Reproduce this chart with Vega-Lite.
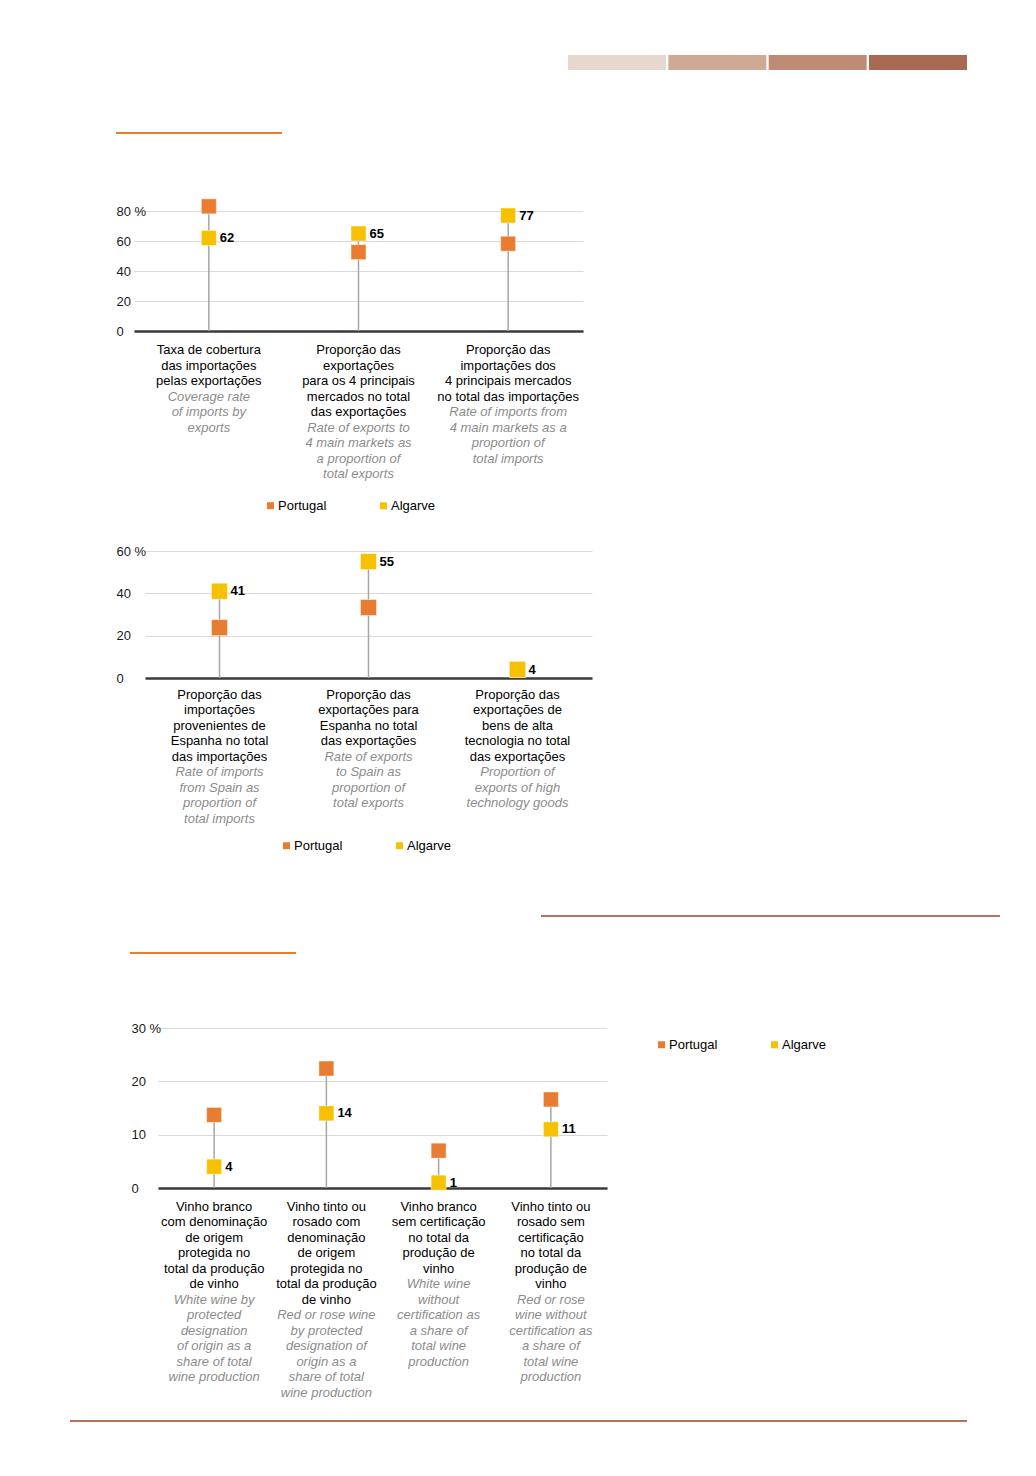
{
  "$schema": "https://vega.github.io/schema/vega-lite/v6.json",
  "padding": {"left": 0, "top": 55, "right": 0, "bottom": 0},
  "columns": 2,
  "spacing": {"row": 0, "column": 0},
  "bounds": "flush",
  "align": "each",
  "resolve": {"scale": {"color": "independent"}, "legend": {"color": "independent"}},
  "datasets": {
    "faixas": [{"faixa": "1"}, {"faixa": "2"}, {"faixa": "3"}, {"faixa": "4"}],
    "p1": [
      {"indicador": "c1", "serie": "Portugal", "valor": 83.1},
      {"indicador": "c2", "serie": "Portugal", "valor": 52.6},
      {"indicador": "c3", "serie": "Portugal", "valor": 58.2},
      {"indicador": "c1", "serie": "Algarve", "valor": 62},
      {"indicador": "c2", "serie": "Algarve", "valor": 65},
      {"indicador": "c3", "serie": "Algarve", "valor": 77}
    ],
    "t1": [
      {"indicador": "c1", "pt": ["Taxa de cobertura", "das importações", "pelas exportações"], "en": ["Coverage rate", "of imports by", "exports"]},
      {"indicador": "c2", "pt": ["Proporção das", "exportações", "para os 4 principais", "mercados no total", "das exportações"], "en": ["Rate of exports to", "4 main markets as", "a proportion of", "total exports"]},
      {"indicador": "c3", "pt": ["Proporção das", "importações dos", "4 principais mercados", "no total das importações"], "en": ["Rate of imports from", "4 main markets as a", "proportion of", "total imports"]}
    ],
    "p2": [
      {"indicador": "c1", "serie": "Portugal", "valor": 23.8},
      {"indicador": "c2", "serie": "Portugal", "valor": 33.3},
      {"indicador": "c3", "serie": "Portugal", "valor": 4},
      {"indicador": "c1", "serie": "Algarve", "valor": 41},
      {"indicador": "c2", "serie": "Algarve", "valor": 55},
      {"indicador": "c3", "serie": "Algarve", "valor": 4}
    ],
    "t2": [
      {"indicador": "c1", "pt": ["Proporção das", "importações", "provenientes de", "Espanha no total", "das importações"], "en": ["Rate of imports", "from Spain as", "proportion of", "total imports"]},
      {"indicador": "c2", "pt": ["Proporção das", "exportações para", "Espanha no total", "das exportações"], "en": ["Rate of exports", "to Spain as", "proportion of", "total exports"]},
      {"indicador": "c3", "pt": ["Proporção das", "exportações de", "bens de alta", "tecnologia no total", "das exportações"], "en": ["Proportion of", "exports of high", "technology goods"]}
    ],
    "p3": [
      {"indicador": "c1", "serie": "Portugal", "valor": 13.7},
      {"indicador": "c2", "serie": "Portugal", "valor": 22.4},
      {"indicador": "c3", "serie": "Portugal", "valor": 7},
      {"indicador": "c4", "serie": "Portugal", "valor": 16.6},
      {"indicador": "c1", "serie": "Algarve", "valor": 4},
      {"indicador": "c2", "serie": "Algarve", "valor": 14},
      {"indicador": "c3", "serie": "Algarve", "valor": 1},
      {"indicador": "c4", "serie": "Algarve", "valor": 11}
    ],
    "t3": [
      {"indicador": "c1", "pt": ["Vinho branco", "com denominação", "de origem", "protegida no", "total da produção", "de vinho"], "en": ["White wine by", "protected", "designation", "of origin as a", "share of total", "wine production"]},
      {"indicador": "c2", "pt": ["Vinho tinto ou", "rosado com", "denominação", "de origem", "protegida no", "total da produção", "de vinho"], "en": ["Red or rose wine", "by protected", "designation of", "origin as a", "share of total", "wine production"]},
      {"indicador": "c3", "pt": ["Vinho branco", "sem certificação", "no total da", "produção de", "vinho"], "en": ["White wine", "without", "certification as", "a share of", "total wine", "production"]},
      {"indicador": "c4", "pt": ["Vinho tinto ou", "rosado sem", "certificação", "no total da", "produção de", "vinho"], "en": ["Red or rose", "wine without", "certification as", "a share of", "total wine", "production"]}
    ]
  },
  "concat": [
    {"width": 1, "height": 77, "data": {"values": []}, "mark": "rect"},
    {
      "spacing": 0, "bounds": "flush",
      "hconcat": [
        {"width": 567, "height": 1, "data": {"values": []}, "mark": "rect"},
        {
          "width": 399, "height": 15,
          "data": {"name": "faixas"},
          "mark": {"type": "rect"},
          "encoding": {
            "x": {"field": "faixa", "type": "nominal", "axis": null, "scale": {"paddingInner": 0.023, "paddingOuter": 0}},
            "color": {"field": "faixa", "type": "nominal", "legend": null, "scale": {"domain": ["1", "2", "3", "4"], "range": ["#E8D7CE", "#CEA996", "#BF8B76", "#A86A52"]}}
          }
        }
      ]
    },
    {"width": 1, "height": 79, "data": {"values": []}, "mark": "rect"},
    {
      "spacing": 0, "bounds": "flush",
      "hconcat": [
        {"width": 115, "height": 1, "data": {"values": []}, "mark": "rect"},
        {"width": 166, "height": 2, "data": {"values": [{"linha": "secção"}]}, "mark": {"type": "rect", "color": "#E87D2A"}, "encoding": {}}
      ]
    },
    {"width": 1, "height": 340, "data": {"values": []}, "mark": "rect"},
    {
      "spacing": 0, "bounds": "flush",
      "hconcat": [
        {"width": 133, "height": 1, "data": {"values": []}, "mark": "rect"},
        {
          "width": 449, "height": 120,
          "encoding": {
            "x": {"field": "indicador", "type": "nominal", "title": null, "scale": {"type": "point", "padding": 0.5},
                  "axis": {"labels": false, "ticks": false, "grid": false, "domainColor": "#3a3a3a", "domainWidth": 2.5}}
          },
          "layer": [
            {
              "data": {"name": "p1"},
              "mark": {"type": "rule", "color": "#a6a6a6", "strokeWidth": 1.5},
              "encoding": {
                "y": {"aggregate": "max", "field": "valor", "type": "quantitative", "title": null, "scale": {"domain": [0, 80], "nice": false},
                      "axis": {"values": [0, 20, 40, 60, 80], "labelPadding": 18, "labelExpr": "datum.value == 80 ? '80 %' : datum.value == 0 ? '\u20070' : datum.label"}},
                "y2": {"datum": 0}
              }
            },
            {
              "data": {"name": "p1"},
              "mark": {"type": "point", "shape": "square", "filled": true, "size": 225, "opacity": 1, "stroke": "#ffffff", "strokeWidth": 1, "strokeOpacity": 0.45},
              "encoding": {
                "y": {"field": "valor", "type": "quantitative", "title": null, "scale": {"domain": [0, 80], "nice": false},
                      "axis": {"values": [0, 20, 40, 60, 80], "labelPadding": 18, "labelExpr": "datum.value == 80 ? '80 %' : datum.value == 0 ? '\u20070' : datum.label"}},
                "color": {"field": "serie", "type": "nominal", "scale": {"domain": ["Portugal", "Algarve"], "range": ["#E87C30", "#F5C100"]},
                          "legend": {"orient": "none", "legendX": 263, "legendY": 288, "direction": "horizontal", "title": null, "symbolType": "square", "symbolSize": 49, "symbolStrokeWidth": 0, "symbolOpacity": 1, "labelFontSize": 13, "labelColor": "#000000", "columnPadding": 50, "labelOffset": 1, "padding": 0}}
              }
            },
            {
              "data": {"name": "p1"},
              "transform": [{"filter": "datum.serie == 'Algarve'"}],
              "mark": {"type": "text", "align": "left", "baseline": "middle", "dx": 11, "fontWeight": "bold", "fontSize": 13, "color": "#000000"},
              "encoding": {
                "y": {"field": "valor", "type": "quantitative", "title": null,
                      "axis": {"values": [0, 20, 40, 60, 80], "labelPadding": 18, "labelExpr": "datum.value == 80 ? '80 %' : datum.value == 0 ? '\u20070' : datum.label"}},
                "text": {"field": "valor", "type": "quantitative"}
              }
            },
            {
              "data": {"name": "t1"},
              "mark": {"type": "text", "align": "center", "baseline": "top", "dy": 13, "fontSize": 13, "lineHeight": 15.5, "color": "#000000"},
              "encoding": {
                "y": {"datum": 0, "type": "quantitative", "title": null,
                      "axis": {"values": [0, 20, 40, 60, 80], "labelPadding": 18, "labelExpr": "datum.value == 80 ? '80 %' : datum.value == 0 ? '\u20070' : datum.label"}},
                "text": {"field": "pt"}
              }
            },
            {
              "data": {"name": "t1"},
              "mark": {"type": "text", "align": "center", "baseline": "top", "dy": {"expr": "13 + length(datum.pt) * 15.5"}, "fontSize": 13, "lineHeight": 15.5, "fontStyle": "italic", "color": "#8c8c8c"},
              "encoding": {
                "y": {"datum": 0, "type": "quantitative", "title": null,
                      "axis": {"values": [0, 20, 40, 60, 80], "labelPadding": 18, "labelExpr": "datum.value == 80 ? '80 %' : datum.value == 0 ? '\u20070' : datum.label"}},
                "text": {"field": "en"}
              }
            }
          ]
        }
      ]
    },
    {"width": 1, "height": 364, "data": {"values": []}, "mark": "rect"},
    {
      "spacing": 0, "bounds": "flush",
      "hconcat": [
        {"width": 144, "height": 1, "data": {"values": []}, "mark": "rect"},
        {
          "width": 447, "height": 127,
          "encoding": {
            "x": {"field": "indicador", "type": "nominal", "title": null, "scale": {"type": "point", "padding": 0.5},
                  "axis": {"labels": false, "ticks": false, "grid": false, "domainColor": "#3a3a3a", "domainWidth": 2.5}}
          },
          "layer": [
            {
              "data": {"name": "p2"},
              "mark": {"type": "rule", "color": "#a6a6a6", "strokeWidth": 1.5},
              "encoding": {
                "y": {"aggregate": "max", "field": "valor", "type": "quantitative", "title": null, "scale": {"domain": [0, 60], "nice": false},
                      "axis": {"values": [0, 20, 40, 60], "labelPadding": 29, "labelExpr": "datum.value == 60 ? '60 %' : datum.value == 0 ? '\u20070' : datum.label"}},
                "y2": {"datum": 0}
              }
            },
            {
              "data": {"name": "p2"},
              "mark": {"type": "point", "shape": "square", "filled": true, "size": 256, "opacity": 1, "stroke": "#ffffff", "strokeWidth": 1, "strokeOpacity": 0.45},
              "encoding": {
                "y": {"field": "valor", "type": "quantitative", "title": null, "scale": {"domain": [0, 60], "nice": false},
                      "axis": {"values": [0, 20, 40, 60], "labelPadding": 29, "labelExpr": "datum.value == 60 ? '60 %' : datum.value == 0 ? '\u20070' : datum.label"}},
                "color": {"field": "serie", "type": "nominal", "scale": {"domain": ["Portugal", "Algarve"], "range": ["#E87C30", "#F5C100"]},
                          "legend": {"orient": "none", "legendX": 279, "legendY": 288, "direction": "horizontal", "title": null, "symbolType": "square", "symbolSize": 49, "symbolStrokeWidth": 0, "symbolOpacity": 1, "labelFontSize": 13, "labelColor": "#000000", "columnPadding": 50, "labelOffset": 1, "padding": 0}}
              }
            },
            {
              "data": {"name": "p2"},
              "transform": [{"filter": "datum.serie == 'Algarve'"}],
              "mark": {"type": "text", "align": "left", "baseline": "middle", "dx": 11, "fontWeight": "bold", "fontSize": 13, "color": "#000000"},
              "encoding": {
                "y": {"field": "valor", "type": "quantitative", "title": null,
                      "axis": {"values": [0, 20, 40, 60], "labelPadding": 29, "labelExpr": "datum.value == 60 ? '60 %' : datum.value == 0 ? '\u20070' : datum.label"}},
                "text": {"field": "valor", "type": "quantitative"}
              }
            },
            {
              "data": {"name": "t2"},
              "mark": {"type": "text", "align": "center", "baseline": "top", "dy": 10.5, "fontSize": 13, "lineHeight": 15.5, "color": "#000000"},
              "encoding": {
                "y": {"datum": 0, "type": "quantitative", "title": null,
                      "axis": {"values": [0, 20, 40, 60], "labelPadding": 29, "labelExpr": "datum.value == 60 ? '60 %' : datum.value == 0 ? '\u20070' : datum.label"}},
                "text": {"field": "pt"}
              }
            },
            {
              "data": {"name": "t2"},
              "mark": {"type": "text", "align": "center", "baseline": "top", "dy": {"expr": "10.5 + length(datum.pt) * 15.5"}, "fontSize": 13, "lineHeight": 15.5, "fontStyle": "italic", "color": "#8c8c8c"},
              "encoding": {
                "y": {"datum": 0, "type": "quantitative", "title": null,
                      "axis": {"values": [0, 20, 40, 60], "labelPadding": 29, "labelExpr": "datum.value == 60 ? '60 %' : datum.value == 0 ? '\u20070' : datum.label"}},
                "text": {"field": "en"}
              }
            }
          ]
        }
      ]
    },
    {"width": 1, "height": 37, "data": {"values": []}, "mark": "rect"},
    {
      "spacing": 0, "bounds": "flush",
      "hconcat": [
        {"width": 540, "height": 1, "data": {"values": []}, "mark": "rect"},
        {"width": 459, "height": 2, "data": {"values": [{"linha": "divisória"}]}, "mark": {"type": "rect", "color": "#B5725C"}, "encoding": {}}
      ]
    },
    {"width": 1, "height": 76, "data": {"values": []}, "mark": "rect"},
    {
      "spacing": 0, "bounds": "flush",
      "hconcat": [
        {"width": 129, "height": 1, "data": {"values": []}, "mark": "rect"},
        {"width": 166, "height": 2, "data": {"values": [{"linha": "secção"}]}, "mark": {"type": "rect", "color": "#E87D2A"}, "encoding": {}}
      ]
    },
    {"width": 1, "height": 392, "data": {"values": []}, "mark": "rect"},
    {
      "spacing": 0, "bounds": "flush",
      "hconcat": [
        {"width": 157, "height": 1, "data": {"values": []}, "mark": "rect"},
        {
          "width": 449, "height": 160,
          "encoding": {
            "x": {"field": "indicador", "type": "nominal", "title": null, "scale": {"type": "point", "padding": 0.5},
                  "axis": {"labels": false, "ticks": false, "grid": false, "domainColor": "#3a3a3a", "domainWidth": 2.5}}
          },
          "layer": [
            {
              "data": {"name": "p3"},
              "mark": {"type": "rule", "color": "#a6a6a6", "strokeWidth": 1.5},
              "encoding": {
                "y": {"aggregate": "max", "field": "valor", "type": "quantitative", "title": null, "scale": {"domain": [0, 30], "nice": false},
                      "axis": {"values": [0, 10, 20, 30], "labelPadding": 27, "labelExpr": "datum.value == 30 ? '30 %' : datum.value == 0 ? '\u20070' : datum.label"}},
                "y2": {"datum": 0}
              }
            },
            {
              "data": {"name": "p3"},
              "mark": {"type": "point", "shape": "square", "filled": true, "size": 225, "opacity": 1, "stroke": "#ffffff", "strokeWidth": 1, "strokeOpacity": 0.45},
              "encoding": {
                "y": {"field": "valor", "type": "quantitative", "title": null, "scale": {"domain": [0, 30], "nice": false},
                      "axis": {"values": [0, 10, 20, 30], "labelPadding": 27, "labelExpr": "datum.value == 30 ? '30 %' : datum.value == 0 ? '\u20070' : datum.label"}},
                "color": {"field": "serie", "type": "nominal", "scale": {"domain": ["Portugal", "Algarve"], "range": ["#E87C30", "#F5C100"]},
                          "legend": {"orient": "none", "legendX": 654, "legendY": 10, "direction": "horizontal", "title": null, "symbolType": "square", "symbolSize": 49, "symbolStrokeWidth": 0, "symbolOpacity": 1, "labelFontSize": 13, "labelColor": "#000000", "columnPadding": 50, "labelOffset": 1, "padding": 0}}
              }
            },
            {
              "data": {"name": "p3"},
              "transform": [{"filter": "datum.serie == 'Algarve'"}],
              "mark": {"type": "text", "align": "left", "baseline": "middle", "dx": 11, "fontWeight": "bold", "fontSize": 13, "color": "#000000"},
              "encoding": {
                "y": {"field": "valor", "type": "quantitative", "title": null,
                      "axis": {"values": [0, 10, 20, 30], "labelPadding": 27, "labelExpr": "datum.value == 30 ? '30 %' : datum.value == 0 ? '\u20070' : datum.label"}},
                "text": {"field": "valor", "type": "quantitative"}
              }
            },
            {
              "data": {"name": "t3"},
              "mark": {"type": "text", "align": "center", "baseline": "top", "dy": 12.5, "fontSize": 13, "lineHeight": 15.5, "color": "#000000"},
              "encoding": {
                "y": {"datum": 0, "type": "quantitative", "title": null,
                      "axis": {"values": [0, 10, 20, 30], "labelPadding": 27, "labelExpr": "datum.value == 30 ? '30 %' : datum.value == 0 ? '\u20070' : datum.label"}},
                "text": {"field": "pt"}
              }
            },
            {
              "data": {"name": "t3"},
              "mark": {"type": "text", "align": "center", "baseline": "top", "dy": {"expr": "12.5 + length(datum.pt) * 15.5"}, "fontSize": 13, "lineHeight": 15.5, "fontStyle": "italic", "color": "#8c8c8c"},
              "encoding": {
                "y": {"datum": 0, "type": "quantitative", "title": null,
                      "axis": {"values": [0, 10, 20, 30], "labelPadding": 27, "labelExpr": "datum.value == 30 ? '30 %' : datum.value == 0 ? '\u20070' : datum.label"}},
                "text": {"field": "en"}
              }
            }
          ]
        }
      ]
    },
    {"width": 1, "height": 2, "data": {"values": []}, "mark": "rect"},
    {
      "spacing": 0, "bounds": "flush",
      "hconcat": [
        {"width": 69, "height": 1, "data": {"values": []}, "mark": "rect"},
        {"width": 897, "height": 2, "data": {"values": [{"linha": "rodapé"}]}, "mark": {"type": "rect", "color": "#B5725C"}, "encoding": {}}
      ]
    }
  ],
  "config": {
    "view": {"stroke": null},
    "font": "Liberation Sans",
    "axisY": {"grid": true, "gridColor": "#d9d9d9", "gridWidth": 1, "domain": false, "ticks": false, "tickSize": 0, "labelAlign": "left", "labelBaseline": "middle", "labelFontSize": 13, "labelColor": "#1a1a1a", "labelFont": "Liberation Sans", "labelOverlap": false},
    "axisX": {"grid": false},
    "text": {"font": "Liberation Sans"},
    "legend": {"labelFont": "Liberation Sans"}
  }
}
